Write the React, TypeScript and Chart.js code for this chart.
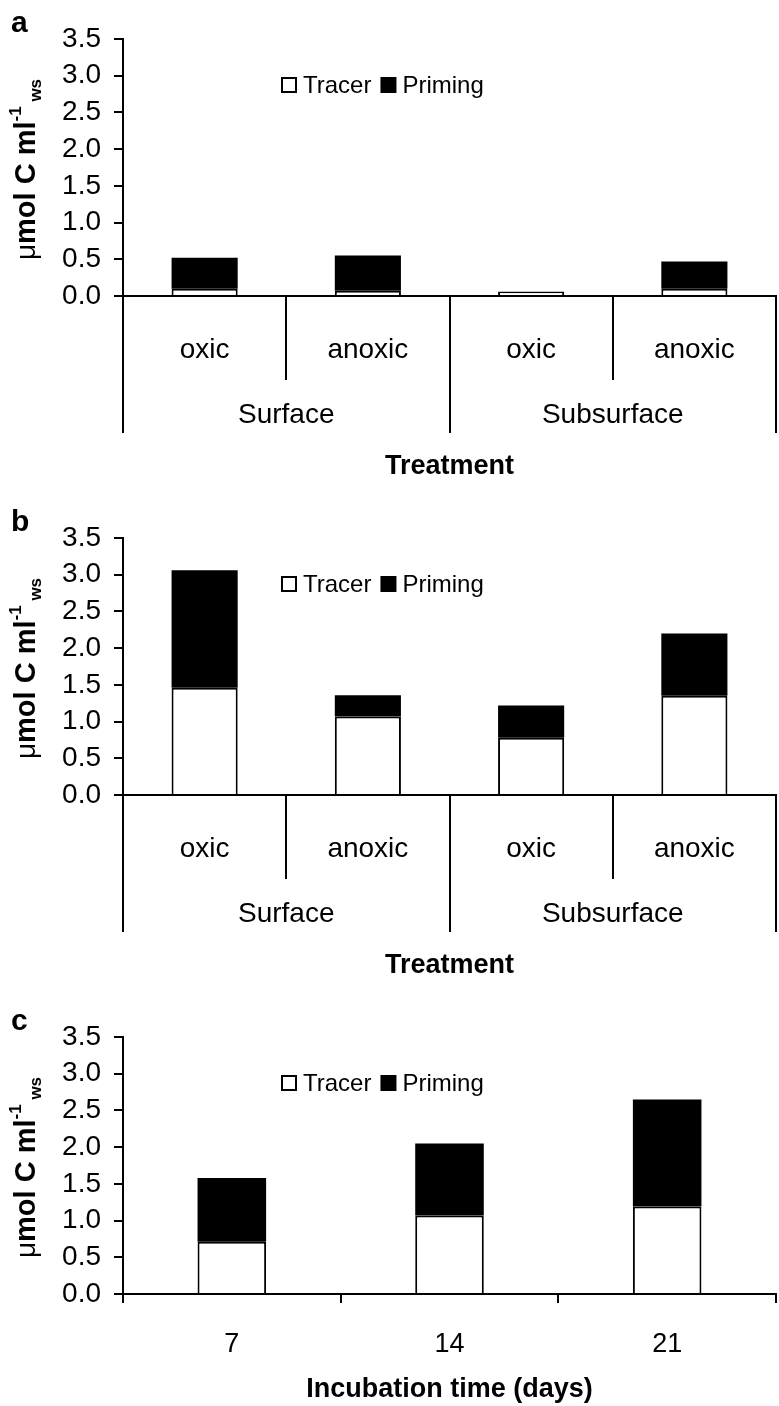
import React, { useEffect, useRef } from "react";
import { Chart, registerables } from "chart.js";

Chart.register(...registerables);

// ---------- data ----------
const seriesNames = ["Tracer", "Priming"];
const treatmentLabels = ["oxic", "anoxic", "oxic", "anoxic"];
const treatmentGroups = ["Surface", "Subsurface"];
const panelATracer = [0.1, 0.07, 0.06, 0.1];
const panelAPriming = [0.42, 0.48, 0.0, 0.37];
const panelBTracer = [1.46, 1.07, 0.78, 1.35];
const panelBPriming = [1.6, 0.29, 0.44, 0.85];
const incubationDays = ["7", "14", "21"];
const panelCTracer = [0.71, 1.07, 1.19];
const panelCPriming = [0.87, 0.98, 1.46];
const yMin = 0;
const yMax = 3.5;
const yStep = 0.5;
const treatmentTitle = "Treatment";
const incubationTitle = "Incubation time (days)";

const FONT = '"Liberation Sans", Arial, Helvetica, sans-serif';

type PanelCfg = {
  letter: string;
  labels: string[];
  tracer: number[];
  priming: number[];
  height: number;
  grouped: boolean;
  barPct: number;
  title: string;
};

const panels: PanelCfg[] = [
  { letter: "a", labels: treatmentLabels, tracer: panelATracer, priming: panelAPriming, height: 499, grouped: true, barPct: 0.405, title: treatmentTitle },
  { letter: "b", labels: treatmentLabels, tracer: panelBTracer, priming: panelBPriming, height: 499, grouped: true, barPct: 0.405, title: treatmentTitle },
  { letter: "c", labels: incubationDays, tracer: panelCTracer, priming: panelCPriming, height: 408, grouped: false, barPct: 0.315, title: incubationTitle },
];

const AXIS_LEFT = 123;
const AREA_TOP = 39;
const AREA_BOTTOM = 296;
const RIGHT_PAD = 3;

function decorPlugin(cfg: PanelCfg) {
  return {
    id: "decor_" + cfg.letter,
    afterDraw(chart: any) {
      const ctx: CanvasRenderingContext2D = chart.ctx;
      const area = chart.chartArea;
      const x = chart.scales.x;
      ctx.save();
      ctx.fillStyle = "#000";
      ctx.strokeStyle = "#000";

      // panel letter
      ctx.font = `bold 30px ${FONT}`;
      ctx.textAlign = "left";
      ctx.textBaseline = "alphabetic";
      ctx.fillText(cfg.letter, 11, 32);

      // y axis title (rotated, with superscript/subscript)
      const pieces = [
        { t: "\u03bc", f: `28px ${FONT}`, dy: 0 },
        { t: "mol C ml", f: `bold 29px ${FONT}`, dy: 0 },
        { t: "-1", f: `bold 17px ${FONT}`, dy: -14 },
        { t: " ws", f: `bold 17px ${FONT}`, dy: 6 },
      ];
      let total = 0;
      for (const p of pieces) {
        ctx.font = p.f;
        total += ctx.measureText(p.t).width;
      }
      ctx.save();
      ctx.translate(35, (area.top + area.bottom) / 2 + 2);
      ctx.rotate(-Math.PI / 2);
      let cx = -total / 2;
      for (const p of pieces) {
        ctx.font = p.f;
        ctx.fillText(p.t, cx, p.dy);
        cx += ctx.measureText(p.t).width;
      }
      ctx.restore();

      // legend
      const ly = area.top + 46;
      ctx.font = `24px ${FONT}`;
      ctx.textBaseline = "middle";
      const ds = chart.data.datasets;
      let lx = 282;
      ds.forEach((d: any) => {
        ctx.fillStyle = d.backgroundColor;
        ctx.fillRect(lx, ly - 7, 14, 14);
        ctx.lineWidth = 2;
        ctx.strokeStyle = "#000";
        ctx.strokeRect(lx, ly - 7, 14, 14);
        ctx.fillStyle = "#000";
        ctx.fillText(d.label, lx + 21, ly + 1);
        lx += 21 + ctx.measureText(d.label).width + 10;
      });

      ctx.textAlign = "center";
      ctx.textBaseline = "middle";
      if (cfg.grouped) {
        const mid = (x.getPixelForValue(1) + x.getPixelForValue(2)) / 2;
        ctx.lineWidth = 2;
        ctx.beginPath();
        for (const raw of [x.left, mid, x.right]) {
          const px = Math.round(raw);
          ctx.moveTo(px, area.bottom);
          ctx.lineTo(px, area.bottom + 137);
        }
        ctx.stroke();
        ctx.font = `28px ${FONT}`;
        ctx.fillText(treatmentGroups[0], (x.left + mid) / 2, area.bottom + 119);
        ctx.fillText(treatmentGroups[1], (mid + x.right) / 2, area.bottom + 119);
        ctx.font = `bold 27px ${FONT}`;
        ctx.fillText(cfg.title, (x.left + x.right) / 2, area.bottom + 171);
      } else {
        ctx.font = `bold 27px ${FONT}`;
        ctx.fillText(cfg.title, (x.left + x.right) / 2, area.bottom + 96);
      }
      ctx.restore();
    },
  };
}

function Panel({ cfg }: { cfg: PanelCfg }) {
  const ref = useRef<HTMLCanvasElement | null>(null);
  useEffect(() => {
    if (!ref.current) return;
    const chart = new Chart(ref.current, {
      type: "bar",
      data: {
        labels: cfg.labels,
        datasets: [
          {
            label: seriesNames[0],
            data: cfg.tracer,
            backgroundColor: "#ffffff",
            borderColor: "#000000",
            borderWidth: 2,
            barPercentage: cfg.barPct,
            categoryPercentage: 1,
          },
          {
            label: seriesNames[1],
            data: cfg.priming,
            backgroundColor: "#000000",
            borderColor: "#000000",
            borderWidth: 0,
            barPercentage: cfg.barPct,
            categoryPercentage: 1,
          },
        ],
      },
      plugins: [decorPlugin(cfg)],
      options: {
        responsive: false,
        animation: false,
        devicePixelRatio: 1,
        layout: { padding: { left: 0, right: RIGHT_PAD, top: AREA_TOP, bottom: 0 } },
        plugins: { legend: { display: false }, tooltip: { enabled: false } },
        scales: {
          x: {
            stacked: true,
            offset: true,
            grid: {
              offset: true,
              drawOnChartArea: false,
              drawTicks: true,
              tickLength: cfg.grouped ? 84 : 9,
              color: "#000",
              lineWidth: 2,
            },
            border: { display: true, color: "#000", width: 2 },
            ticks: {
              color: "#000",
              font: { size: cfg.grouped ? 28 : 27, family: FONT },
              padding: cfg.grouped ? -47 : 25,
              autoSkip: false,
              maxRotation: 0,
              minRotation: 0,
            },
            afterFit: (s: any) => {
              s.height = cfg.height - AREA_BOTTOM;
            },
          },
          y: {
            stacked: true,
            min: yMin,
            max: yMax,
            grid: {
              drawOnChartArea: false,
              drawTicks: true,
              tickLength: 9,
              color: "#000",
              lineWidth: 2,
            },
            border: { display: true, color: "#000", width: 2 },
            ticks: {
              stepSize: yStep,
              color: "#000",
              padding: 13,
              font: { size: 28, family: FONT },
              callback: (v: any) => Number(v).toFixed(1),
            },
            afterFit: (s: any) => {
              s.width = AXIS_LEFT;
            },
          },
        },
      },
    });
    return () => chart.destroy();
  }, [cfg]);
  return <canvas ref={ref} width={779} height={cfg.height} style={{ display: "block", width: 779, height: cfg.height }} />;
}

export default function App() {
  return (
    <div style={{ position: "absolute", left: 0, top: 0, width: 779, height: 1406, background: "#fff" }}>
      {panels.map((p) => (
        <Panel key={p.letter} cfg={p} />
      ))}
    </div>
  );
}
